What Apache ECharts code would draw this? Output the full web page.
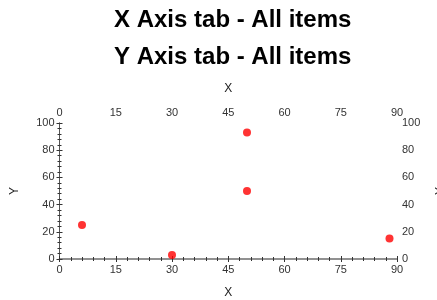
<!DOCTYPE html>
<html><head><meta charset="utf-8">
<script src="https://cdn.jsdelivr.net/npm/echarts@6/dist/echarts.min.js"></script>
<style>html,body{margin:0;padding:0;background:#fff}#c{width:437px;height:300px}</style>
</head><body><div id="c"></div>
<script>
var titles = ["X Axis tab - All items", "Y Axis tab - All items"];
var xName = "X";
var yName = "Y";
var xValues = [6, 30, 50, 50, 88];
var yValues = [25, 3, 93, 50, 15];
var xMin = 0, xMax = 90, xStep = 15;
var yMin = 0, yMax = 100, yStep = 20;

var pts = xValues.map(function(x, i){ return [x, yValues[i]]; });
var font = "Liberation Sans, Arial, sans-serif";
var lbl = {color:"#333", fontSize:11, fontFamily:font};
function xa(pos){
  return {type:"value", position:pos, min:xMin, max:xMax, interval:xStep,
    name:xName, nameLocation:"middle", nameGap:pos==="bottom"?28:28,
    nameTextStyle:{color:"#222", fontSize:12, fontFamily:font},
    axisLine:{show:true, lineStyle:{color:"#8a8a8a", width:1.5}},
    axisTick:{show:true, length:3, inside:false, lineStyle:{color:"#333"}},
    minorTick:{show:true, splitNumber:5, length:2, lineStyle:{color:"#333"}},
    axisLabel:Object.assign({margin:5}, lbl), splitLine:{show:false}};
}
function ya(pos){
  return {type:"value", position:pos, min:yMin, max:yMax, interval:yStep,
    name:yName, nameLocation:"middle", nameGap:pos==="left"?39:38,
    nameTextStyle:{color:"#222", fontSize:12, fontFamily:font},
    axisLine:{show:true, lineStyle:{color:"#555", width:1}},
    axisTick:{show:true, length:3, inside:false, lineStyle:{color:"#333"}},
    minorTick:{show:true, splitNumber:5, length:2, lineStyle:{color:"#333"}},
    axisLabel:Object.assign({margin:5}, lbl), splitLine:{show:false}};
}
var chart = echarts.init(document.getElementById("c"), null, {renderer:"canvas"});
chart.setOption({
  animation:false,
  backgroundColor:"#fff",
  title:[
    {text:titles[0], left:109, top:3, textStyle:{fontSize:24, fontWeight:"bold", color:"#000", fontFamily:font}},
    {text:titles[1], left:109, top:40, textStyle:{fontSize:24, fontWeight:"bold", color:"#000", fontFamily:font}}
  ],
  grid:{left:59.5, right:40, top:123, bottom:41, containLabel:false, outerBoundsMode:"none"},
  xAxis:[xa("bottom"), xa("top")],
  yAxis:[ya("left"), ya("right")],
  series:[{type:"scatter", xAxisIndex:0, yAxisIndex:0, data:pts, symbol:"circle", symbolSize:8,
    itemStyle:{color:"#ff0000"}}]
});
</script></body></html>
